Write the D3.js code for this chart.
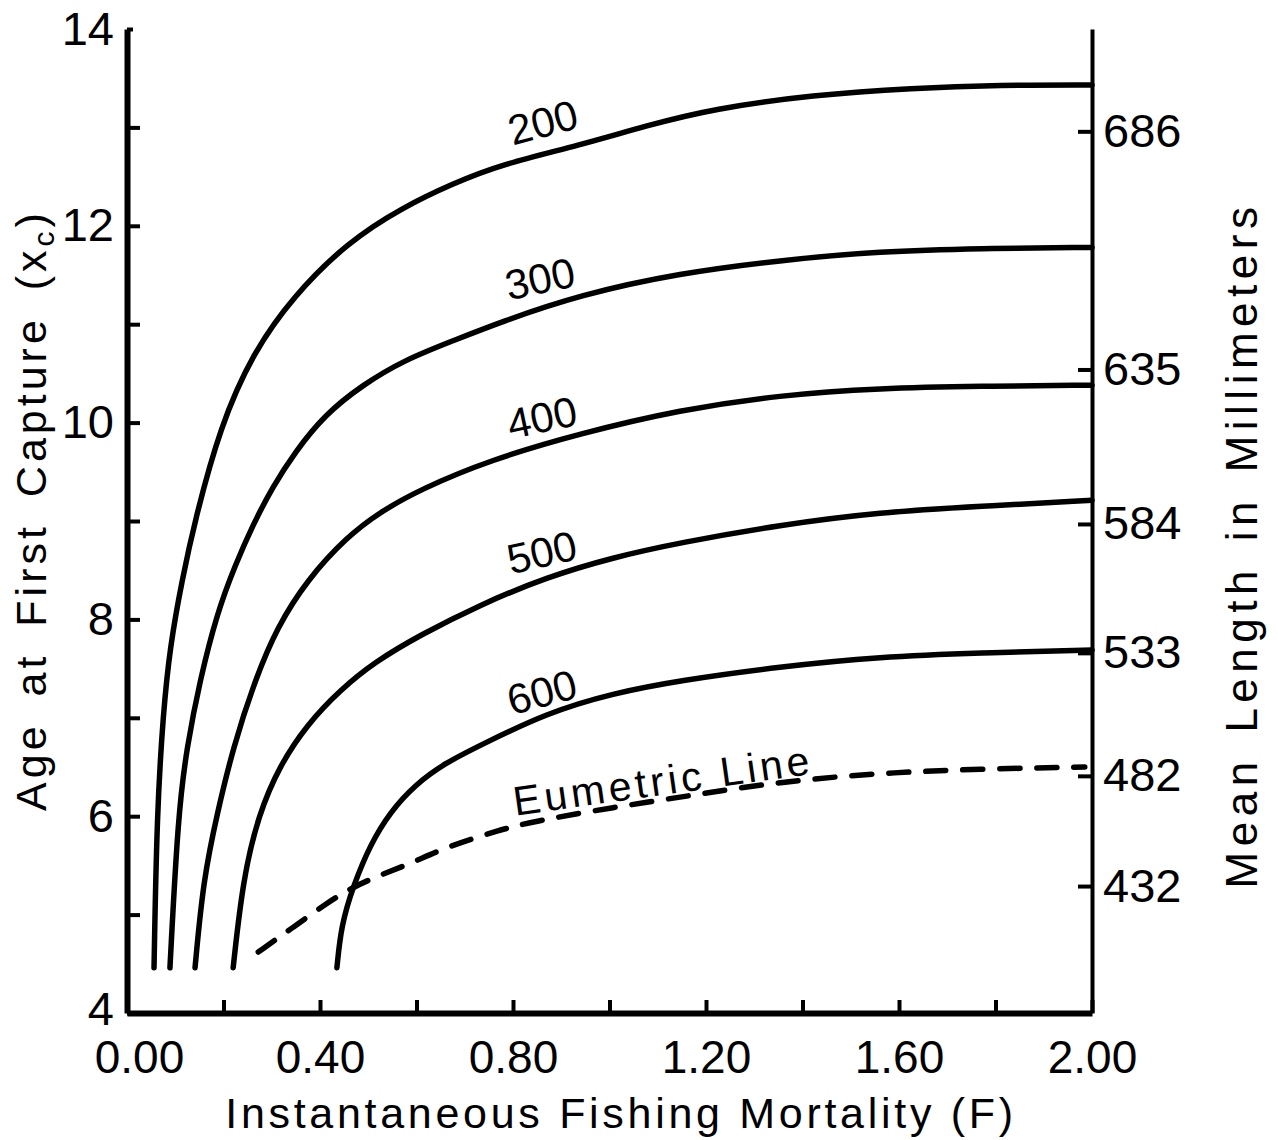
<!DOCTYPE html>
<html>
<head>
<meta charset="utf-8">
<script src="https://cdn.jsdelivr.net/npm/d3@7"></script>
<style>
  body { margin: 0; background: #fff; }
  svg { display: block; }
  text { font-family: "Liberation Sans", Arial, sans-serif; fill: #000; }
</style>
</head>
<body>
<svg id="chart" width="1278" height="1140"></svg>
<script>
// yield isopleths, age at first capture vs fishing mortality
const ageTicks = [4, 5, 6, 7, 8, 9, 10, 11, 12, 13, 14];
const fTicks = [0, 0.2, 0.4, 0.6, 0.8, 1.0, 1.2, 1.4, 1.6, 1.8, 2.0];
const lengthMm = [432, 482, 533, 584, 635, 686];
const lengthAge = [5.29, 6.41, 7.66, 8.97, 10.54, 12.96];

const curve200 = [[0.056,4.46],[0.062,6.03],[0.075,7.05],[0.089,7.72],[0.114,8.40],[0.141,9.01],[0.193,9.96],
  [0.261,10.71],[0.344,11.28],[0.456,11.83],[0.572,12.19],[0.676,12.43],[0.773,12.62],[0.939,12.82],
  [1.078,13.02],[1.215,13.19],[1.422,13.33],[1.629,13.40],[1.809,13.43],[2.0,13.43]];
const curve300 = [[0.089,4.46],[0.106,6.03],[0.124,6.70],[0.151,7.38],[0.187,8.07],[0.224,8.55],[0.261,8.96],
  [0.301,9.34],[0.348,9.70],[0.410,10.08],[0.487,10.38],[0.576,10.64],[0.680,10.84],[0.773,11.02],
  [0.939,11.30],[1.146,11.52],[1.353,11.65],[1.561,11.74],[1.768,11.77],[2.0,11.78]];
const curve400 = [[0.141,4.46],[0.158,5.35],[0.187,6.03],[0.220,6.70],[0.265,7.38],[0.311,7.92],[0.373,8.40],
  [0.456,8.84],[0.524,9.09],[0.607,9.32],[0.752,9.62],[0.939,9.89],[1.146,10.13],[1.353,10.28],
  [1.561,10.35],[1.768,10.37],[2.0,10.38]];
const curve500 = [[0.220,4.46],[0.240,5.35],[0.272,6.01],[0.317,6.52],[0.373,6.93],[0.441,7.28],[0.514,7.57],
  [0.607,7.84],[0.732,8.15],[0.870,8.43],[1.007,8.63],[1.146,8.78],[1.353,8.96],[1.561,9.09],
  [1.768,9.15],[2.0,9.21]];
const curve600 = [[0.435,4.46],[0.444,4.89],[0.468,5.28],[0.504,5.71],[0.545,6.04],[0.597,6.32],[0.659,6.54],
  [0.732,6.72],[0.870,7.05],[1.007,7.25],[1.146,7.38],[1.353,7.52],[1.561,7.62],[1.768,7.66],[2.0,7.69]];
const eumetric = [[0.272,4.62],[0.344,4.87],[0.415,5.12],[0.468,5.28],[0.524,5.40],[0.593,5.53],[0.663,5.69],
  [0.773,5.86],[0.835,5.94],[1.007,6.09],[1.181,6.22],[1.353,6.35],[1.561,6.44],[1.768,6.48],[1.985,6.50]];

const curveNames = ["200", "300", "400", "500", "600"];
const curveLabelF = [0.862, 0.856, 0.860, 0.860, 0.860];
const curveLabelAge = [13.05, 11.46, 10.05, 8.68, 7.26];
const curveLabelAngle = [-15, -12, -12, -13, -15];

const svg = d3.select("#chart");
const x = d3.scaleLinear().domain([0, 2]).range([127, 1092]);
const y = d3.scaleLinear().domain([4, 14]).range([1013, 29]);

function styleAxis(g, width, fontSize) {
  g.attr("font-family", null).attr("font-size", null);
  g.select(".domain").attr("stroke", "#000").attr("stroke-width", width);
  g.selectAll(".tick line").attr("stroke", "#000").attr("stroke-width", 4);
  g.selectAll(".tick text").style("font-size", fontSize + "px");
}

svg.append("g")
  .attr("transform", `translate(${x(0)},0)`)
  .call(d3.axisLeft(y).tickValues(ageTicks).tickSizeInner(-13).tickSizeOuter(0).tickPadding(13)
    .tickFormat(d => d % 2 === 0 ? d : ""))
  .call(g => styleAxis(g, 6, 47))
  .call(g => g.selectAll(".tick line").filter(d => d === 14).attr("x2", 6))
  .call(g => g.selectAll(".tick text").filter(d => d === 4).attr("y", -4));

svg.append("g")
  .attr("transform", `translate(0,${y(4)})`)
  .call(d3.axisBottom(x).tickValues(fTicks).tickSizeInner(-13).tickSizeOuter(0).tickPadding(27)
    .tickFormat((d, i) => i % 2 === 0 ? d.toFixed(2) : ""))
  .call(g => styleAxis(g, 6, 46))
  .call(g => g.selectAll(".tick text").filter(d => d === 0).attr("dx", 12));

svg.append("g")
  .attr("transform", `translate(${x(2)},0)`)
  .call(d3.axisRight(y).tickValues(lengthAge).tickSizeInner(-14).tickSizeOuter(0).tickPadding(11)
    .tickFormat((d, i) => lengthMm[i]))
  .call(g => styleAxis(g, 4, 47));

const line = d3.line()
  .x(d => x(d[0]))
  .y(d => y(d[1]))
  .curve(d3.curveBasis);

const curves = [curve200, curve300, curve400, curve500, curve600];
svg.append("g").selectAll("path")
  .data(curves)
  .enter().append("path")
  .attr("d", line)
  .attr("fill", "none")
  .attr("stroke", "#000")
  .attr("stroke-width", 5.5)
  .attr("stroke-linecap", "round");

svg.append("path")
  .attr("d", line(eumetric))
  .attr("fill", "none")
  .attr("stroke", "#000")
  .attr("stroke-width", 5.5)
  .attr("stroke-linecap", "round")
  .attr("stroke-dasharray", "20,17");

svg.append("g").selectAll("text")
  .data(curveNames)
  .enter().append("text")
  .attr("transform", (d, i) => `translate(${x(curveLabelF[i])},${y(curveLabelAge[i])}) rotate(${curveLabelAngle[i]})`)
  .attr("text-anchor", "middle")
  .attr("dominant-baseline", "central")
  .style("font-size", "42px")
  .text(d => d);

svg.append("text")
  .attr("transform", `translate(${x(1.111)},${y(6.36)}) rotate(-8)`)
  .attr("text-anchor", "middle")
  .attr("dominant-baseline", "central")
  .style("font-size", "41px")
  .style("letter-spacing", "4px")
  .text("Eumetric Line");

// axis titles
svg.append("text")
  .attr("x", 621).attr("y", 1128)
  .attr("text-anchor", "middle")
  .style("font-size", "43px")
  .style("letter-spacing", "3.7px")
  .text("Instantaneous Fishing Mortality (F)");

const leftTitle = svg.append("text")
  .attr("transform", "translate(46,510) rotate(-90)")
  .attr("text-anchor", "middle")
  .style("font-size", "43px")
  .style("letter-spacing", "4px")
  .style("word-spacing", "10px");
leftTitle.append("tspan").text("Age at First Capture (x");
leftTitle.append("tspan").attr("dy", 8).style("font-size", "30px").text("c");
leftTitle.append("tspan").attr("dy", -8).text(")");

svg.append("text")
  .attr("transform", "translate(1257,545) rotate(-90)")
  .attr("text-anchor", "middle")
  .style("font-size", "44px")
  .style("letter-spacing", "5.5px")
  .style("word-spacing", "6px")
  .text("Mean Length in Millimeters");
</script>
</body>
</html>
